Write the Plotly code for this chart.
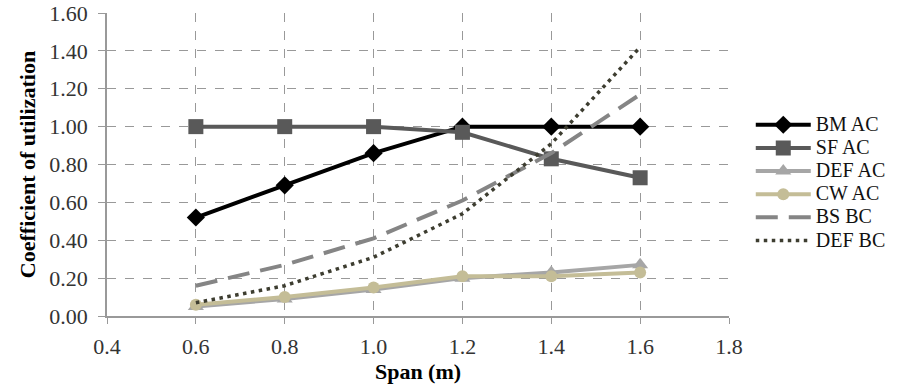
import plotly.graph_objects as go

span = [0.6, 0.8, 1.0, 1.2, 1.4, 1.6]
bm_ac = [0.52, 0.69, 0.86, 1.00, 1.00, 1.00]
sf_ac = [1.00, 1.00, 1.00, 0.97, 0.83, 0.73]
def_ac = [0.05, 0.09, 0.14, 0.20, 0.23, 0.27]
cw_ac = [0.06, 0.10, 0.15, 0.21, 0.21, 0.23]
bs_bc = [0.16, 0.27, 0.41, 0.61, 0.86, 1.17]
def_bc = [0.07, 0.16, 0.31, 0.54, 0.91, 1.42]

series_names = ["BM AC", "SF AC", "DEF AC", "CW AC", "BS BC", "DEF BC"]

x_ticks = [0.4, 0.6, 0.8, 1.0, 1.2, 1.4, 1.6, 1.8]
y_ticks = [0.0, 0.2, 0.4, 0.6, 0.8, 1.0, 1.2, 1.4, 1.6]


def lname(s):
    return f"<span style='font-size:20px'>{s}</span>"


fig = go.Figure()
fig.add_trace(go.Scatter(x=span, y=bm_ac, name=lname(series_names[0]), mode="lines+markers",
                         line=dict(color="#000000", width=4),
                         marker=dict(symbol="diamond", size=14, color="#000000")))
fig.add_trace(go.Scatter(x=span, y=sf_ac, name=lname(series_names[1]), mode="lines+markers",
                         line=dict(color="#595959", width=4),
                         marker=dict(symbol="square", size=15, color="#595959")))
fig.add_trace(go.Scatter(x=span, y=def_ac, name=lname(series_names[2]), mode="lines+markers",
                         line=dict(color="#a6a6a6", width=4),
                         marker=dict(symbol="triangle-up", size=14, color="#a6a6a6")))
fig.add_trace(go.Scatter(x=span, y=cw_ac, name=lname(series_names[3]), mode="lines+markers",
                         line=dict(color="#c4bd97", width=4),
                         marker=dict(symbol="circle", size=12, color="#c4bd97")))
fig.add_trace(go.Scatter(x=span, y=bs_bc, name=lname(series_names[4]), mode="lines",
                         line=dict(color="#858585", width=4, dash="22px,11px")))
fig.add_trace(go.Scatter(x=span, y=def_bc, name=lname(series_names[5]), mode="lines",
                         line=dict(color="#3d3d30", width=3.5, dash="3.5px,4.5px")))

font_family = "Liberation Serif"
fig.update_layout(
    width=905, height=384,
    margin=dict(l=107, r=176, t=13, b=68),
    plot_bgcolor="white", paper_bgcolor="white",
    font=dict(family=font_family, size=22, color="#333333"),
    showlegend=True,
    legend=dict(x=1.035, y=0.44, xanchor="left", yanchor="middle",
                font=dict(family=font_family, size=15.5, color="#111111"),
                itemwidth=55, tracegroupgap=0, bgcolor="rgba(0,0,0,0)"),
    xaxis=dict(range=[0.4, 1.8], tickvals=x_ticks,
               ticktext=[f"{v:.1f}" for v in x_ticks],
               tickfont=dict(size=22, color="#333333"),
               showgrid=True, gridcolor="#999999", griddash="dash", gridwidth=1,
               showline=True, linecolor="#999999", linewidth=1.5,
               ticks="outside", ticklen=6, tickcolor="#999999",
               ticklabelstandoff=4,
               zeroline=False, automargin=False,
               title=dict(text="<b>Span (m)</b>", standoff=4,
                          font=dict(family=font_family, size=22, color="#000000"))),
    yaxis=dict(range=[0, 1.6], tickvals=y_ticks,
               ticktext=[f"{v:.2f}" for v in y_ticks],
               tickfont=dict(size=22, color="#333333"),
               showgrid=True, gridcolor="#999999", griddash="dash", gridwidth=1,
               showline=True, linecolor="#999999", linewidth=1.5,
               ticks="outside", ticklen=7, tickcolor="#999999",
               ticklabelstandoff=6,
               zeroline=False, automargin=False,
               title=dict(text="<b>Coefficient of utilization</b>", standoff=8,
                          font=dict(family=font_family, size=22, color="#000000"))),
)

fig.write_html("out.html")
